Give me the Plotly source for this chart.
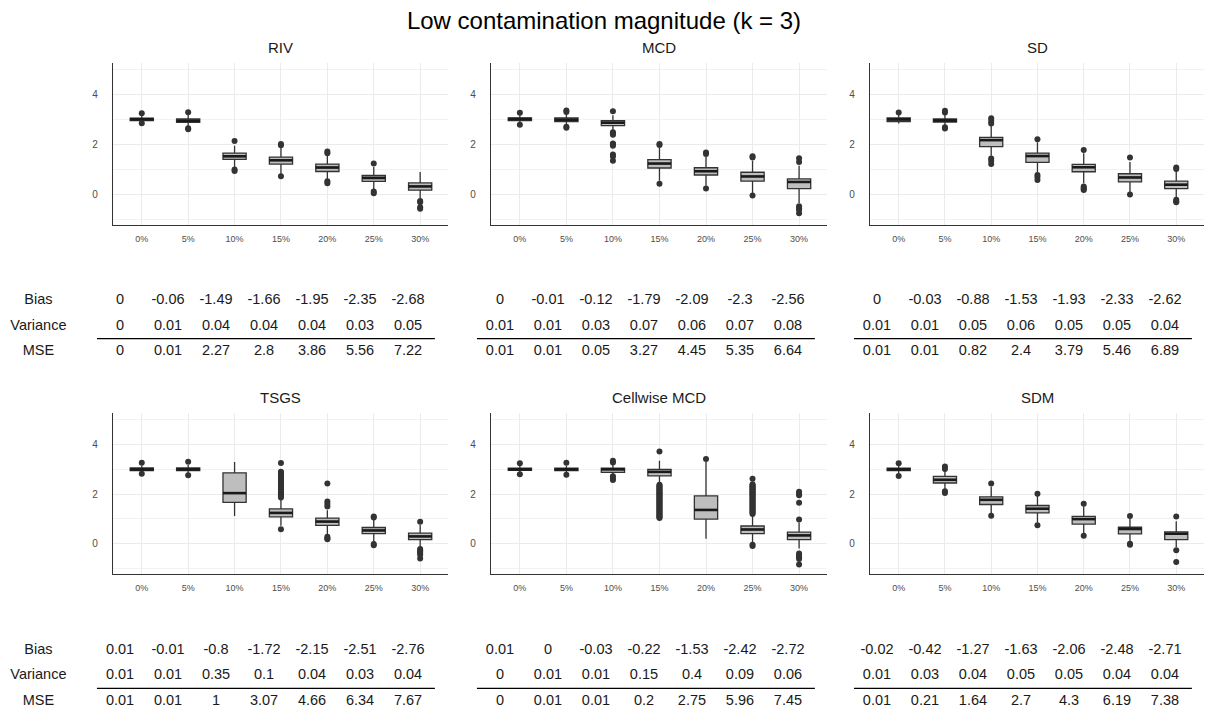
import plotly.graph_objects as go

W, H = 1208, 711

CATS = ["0%", "5%", "10%", "15%", "20%", "25%", "30%"]
METHODS = ["RIV", "MCD", "SD", "TSGS", "Cellwise MCD", "SDM"]
ROW_LABELS = ["Bias", "Variance", "MSE"]
TITLE = "Low contamination magnitude (k = 3)"

# ---- box statistics ----
Q1 = {
    "RIV":          [2.97, 2.89, 1.41, 1.22, 0.92, 0.52, 0.17],
    "MCD":          [2.97, 2.93, 2.76, 1.06, 0.78, 0.53, 0.23],
    "SD":           [2.93, 2.91, 1.92, 1.29, 0.91, 0.50, 0.23],
    "TSGS":         [2.95, 2.95, 1.67, 1.08, 0.74, 0.40, 0.16],
    "Cellwise MCD": [2.96, 2.95, 2.88, 2.74, 0.99, 0.40, 0.16],
    "SDM":          [2.95, 2.45, 1.58, 1.24, 0.79, 0.39, 0.16],
}
MEDIAN = {
    "RIV":          [3.02, 2.96, 1.53, 1.37, 1.08, 0.66, 0.32],
    "MCD":          [3.03, 3.00, 2.88, 1.24, 0.93, 0.72, 0.50],
    "SD":           [3.01, 2.97, 2.18, 1.54, 1.09, 0.68, 0.39],
    "TSGS":         [3.00, 3.00, 2.04, 1.24, 0.89, 0.53, 0.29],
    "Cellwise MCD": [3.00, 3.00, 3.00, 2.90, 1.36, 0.57, 0.33],
    "SDM":          [3.00, 2.58, 1.77, 1.41, 0.99, 0.59, 0.40],
}
Q3 = {
    "RIV":          [3.06, 3.03, 1.66, 1.50, 1.22, 0.76, 0.46],
    "MCD":          [3.07, 3.07, 2.96, 1.40, 1.07, 0.89, 0.62],
    "SD":           [3.07, 3.03, 2.29, 1.66, 1.21, 0.83, 0.53],
    "TSGS":         [3.06, 3.06, 2.86, 1.40, 1.03, 0.65, 0.42],
    "Cellwise MCD": [3.05, 3.05, 3.05, 3.00, 1.93, 0.71, 0.46],
    "SDM":          [3.05, 2.72, 1.89, 1.54, 1.10, 0.66, 0.47],
}
LOWER = {
    "RIV":          [2.88, 2.72, 1.08, 0.82, 0.60, 0.22, -0.15],
    "MCD":          [2.88, 2.80, 2.52, 0.55, 0.35, 0.05, -0.35],
    "SD":           [2.85, 2.78, 1.55, 0.88, 0.45, 0.05, -0.12],
    "TSGS":         [2.88, 2.85, 1.12, 0.72, 0.35, 0.05, -0.12],
    "Cellwise MCD": [2.88, 2.85, 2.80, 2.45, 0.20, 0.02, -0.20],
    "SDM":          [2.85, 2.20, 1.20, 0.85, 0.40, 0.05, -0.15],
}
UPPER = {
    "RIV":          [3.18, 3.22, 1.95, 1.90, 1.55, 1.10, 0.90],
    "MCD":          [3.18, 3.22, 3.18, 1.88, 1.50, 1.35, 1.15],
    "SD":           [3.20, 3.22, 2.75, 2.10, 1.65, 1.30, 0.95],
    "TSGS":         [3.15, 3.18, 3.30, 1.80, 1.35, 0.95, 0.75],
    "Cellwise MCD": [3.15, 3.15, 3.20, 3.35, 3.30, 1.15, 0.85],
    "SDM":          [3.15, 2.95, 2.30, 1.95, 1.50, 1.00, 0.90],
}
OUTLIERS = {
    "RIV": [
        [3.26, 2.86], [3.30, 2.66, 2.62], [2.15, 1.00, 0.94], [2.03, 1.97, 0.73],
        [1.72, 1.65, 0.53, 0.45], [1.24, 0.12, 0.05], [-0.27, -0.32, -0.52, -0.58]],
    "MCD": [
        [3.28, 2.80], [3.37, 3.31, 2.72, 2.68],
        [3.34, 2.50, 2.45, 2.40, 2.05, 2.00, 1.95, 1.60, 1.52, 1.35],
        [2.03, 1.98, 0.43], [1.68, 1.62, 0.24], [1.53, 1.48, -0.04],
        [1.45, 1.30, -0.48, -0.56, -0.62, -0.76]],
    "SD": [
        [3.29], [3.36, 3.29, 2.70, 2.65], [3.06, 2.95, 2.85, 1.44, 1.35, 1.22],
        [2.22, 0.78, 0.70, 0.58], [1.78, 0.32, 0.26, 0.22, 0.18], [1.48, 0.00],
        [1.08, 1.02, -0.22, -0.28, -0.32]],
    "TSGS": [
        [3.27, 2.82], [3.31, 2.76], [],
        [3.26, 2.90, 2.86, 2.82, 2.78, 2.74, 2.70, 2.66, 2.62, 2.58, 2.54, 2.50, 2.46,
         2.42, 2.38, 2.34, 2.30, 2.26, 2.22, 2.18, 2.14, 2.10, 2.06, 2.02, 1.98, 1.94,
         1.90, 1.86, 0.58],
        [2.43, 1.70, 1.60, 1.50, 0.28, 0.22, 0.18], [1.10, 1.05, -0.02, -0.07],
        [0.88, -0.22, -0.28, -0.33, -0.38, -0.45, -0.60]],
    "Cellwise MCD": [
        [3.25, 2.80], [3.27, 2.78], [3.35, 3.28, 2.72, 2.62, 2.57],
        [3.72, 2.38, 2.34, 2.30, 2.26, 2.22, 2.18, 2.14, 2.10, 2.06, 2.02, 1.98, 1.94,
         1.90, 1.86, 1.82, 1.78, 1.74, 1.70, 1.66, 1.62, 1.58, 1.54, 1.50, 1.46, 1.42,
         1.38, 1.34, 1.30, 1.26, 1.22, 1.18, 1.14, 1.10, 1.06, 1.03],
        [3.42],
        [2.62, 2.40, 2.36, 2.32, 2.28, 2.24, 2.20, 2.16, 2.12, 2.08, 2.04, 2.00, 1.96,
         1.92, 1.88, 1.84, 1.80, 1.76, 1.72, 1.68, 1.64, 1.60, 1.56, 1.52, 1.48, 1.44,
         1.40, 1.36, 1.32, 1.28, 1.24, 1.20, -0.05, -0.10],
        [2.10, 2.02, 1.95, 1.65, 0.97, -0.40, -0.48, -0.55, -0.62, -0.85]],
    "SDM": [
        [3.25, 2.73], [3.12, 3.02, 2.12, 2.05], [2.43, 1.13], [2.01, 0.74],
        [1.61, 0.32], [1.12, -0.01, -0.05], [1.10, -0.27, -0.74]],
}

# ---- summary tables ----
BIAS = {
    "RIV":          [0, -0.06, -1.49, -1.66, -1.95, -2.35, -2.68],
    "MCD":          [0, -0.01, -0.12, -1.79, -2.09, -2.3, -2.56],
    "SD":           [0, -0.03, -0.88, -1.53, -1.93, -2.33, -2.62],
    "TSGS":         [0.01, -0.01, -0.8, -1.72, -2.15, -2.51, -2.76],
    "Cellwise MCD": [0.01, 0, -0.03, -0.22, -1.53, -2.42, -2.72],
    "SDM":          [-0.02, -0.42, -1.27, -1.63, -2.06, -2.48, -2.71],
}
VARIANCE = {
    "RIV":          [0, 0.01, 0.04, 0.04, 0.04, 0.03, 0.05],
    "MCD":          [0.01, 0.01, 0.03, 0.07, 0.06, 0.07, 0.08],
    "SD":           [0.01, 0.01, 0.05, 0.06, 0.05, 0.05, 0.04],
    "TSGS":         [0.01, 0.01, 0.35, 0.1, 0.04, 0.03, 0.04],
    "Cellwise MCD": [0, 0.01, 0.01, 0.15, 0.4, 0.09, 0.06],
    "SDM":          [0.01, 0.03, 0.04, 0.05, 0.05, 0.04, 0.04],
}
MSE = {
    "RIV":          [0, 0.01, 2.27, 2.8, 3.86, 5.56, 7.22],
    "MCD":          [0.01, 0.01, 0.05, 3.27, 4.45, 5.35, 6.64],
    "SD":           [0.01, 0.01, 0.82, 2.4, 3.79, 5.46, 6.89],
    "TSGS":         [0.01, 0.01, 1, 3.07, 4.66, 6.34, 7.67],
    "Cellwise MCD": [0, 0.01, 0.01, 0.2, 2.75, 5.96, 7.45],
    "SDM":          [0.01, 0.21, 1.64, 2.7, 4.3, 6.19, 7.38],
}

# ---- layout geometry (pixels) ----
FONT = "Liberation Sans, Arial, sans-serif"
PLOT_X = [(113, 448), (491, 827), (870, 1204)]
PLOT_Y = [(63, 225), (413, 574)]
TITLE_Y = [47, 397]
TAB_C0 = [120, 500, 877]       # pixel centre of first table column
TAB_STEP = 48
TAB_Y = [(288, 364, -0.5, 2.5), (637, 711, -0.39, 2.51)]
X_RANGE = [-0.62, 6.6]
Y_RANGE = [-1.23, 5.28]
LABEL_X = -1.7
BOX_FILL = "#BEBEBE"
DARK = "#333333"


def px_x(a, b):
    return [max(0.0, a / W), min(1.0, b / W)]


def px_y(top, bottom):
    return [max(0.0, 1 - bottom / H), min(1.0, 1 - top / H)]


def fmt(v):
    return format(v, "g")


def ax(n):
    s = "" if n == 1 else str(n)
    return "x" + s, "y" + s, "xaxis" + s, "yaxis" + s


fig = go.Figure()
layout = dict(
    width=W, height=H, margin=dict(l=0, r=0, t=0, b=0),
    paper_bgcolor="white", plot_bgcolor="white", showlegend=False,
    font=dict(family=FONT, color="#1a1a1a"),
    title=dict(text=TITLE, x=0.5, xanchor="center", y=1 - 21 / H, yanchor="middle",
               font=dict(size=24, color="#000000", family=FONT)),
    annotations=[],
)

xs = list(range(len(CATS)))
for i, m in enumerate(METHODS):
    r, c = divmod(i, 3)
    xa, ya, xk, yk = ax(i + 1)
    fig.add_trace(go.Box(
        x=xs, q1=Q1[m], median=MEDIAN[m], q3=Q3[m],
        lowerfence=LOWER[m], upperfence=UPPER[m],
        width=0.5, whiskerwidth=0, boxpoints=False,
        fillcolor=BOX_FILL, line=dict(color=DARK, width=1.3),
        xaxis=xa, yaxis=ya, hoverinfo="skip"))
    # thicker median bars
    mx, my = [], []
    for k, v in enumerate(MEDIAN[m]):
        mx += [k - 0.25, k + 0.25, None]
        my += [v, v, None]
    fig.add_trace(go.Scatter(x=mx, y=my, mode="lines",
                             line=dict(color="#1a1a1a", width=2.6),
                             xaxis=xa, yaxis=ya, hoverinfo="skip"))
    ox, oy = [], []
    for k, vals in enumerate(OUTLIERS[m]):
        ox += [k] * len(vals)
        oy += vals
    fig.add_trace(go.Scatter(x=ox, y=oy, mode="markers",
                             marker=dict(color=DARK, size=6),
                             xaxis=xa, yaxis=ya, hoverinfo="skip", cliponaxis=False))

    axis_common = dict(showline=True, linecolor=DARK, linewidth=1.3, zeroline=False,
                       showgrid=True, gridcolor="#EBEBEB", gridwidth=1, ticks="",
                       fixedrange=True)
    layout[xk] = dict(
        domain=px_x(*PLOT_X[c]), anchor=ya, range=X_RANGE,
        tickmode="array", tickvals=xs, ticktext=CATS,
        tickfont=dict(size=9, color="#4D4D4D", family=FONT),
        ticklabelstandoff=5, **axis_common)
    layout[yk] = dict(
        domain=px_y(*PLOT_Y[r]), anchor=xa, range=Y_RANGE,
        tick0=0, dtick=2,
        minor=dict(dtick=1, tick0=0, showgrid=True, gridcolor="#F2F2F2", gridwidth=0.8),
        tickfont=dict(size=10, color="#4D4D4D", family=FONT),
        ticklabelstandoff=12, **axis_common)
    layout["annotations"].append(dict(
        text=m, xref=f"{xa} domain", yref="paper", x=0.5, y=1 - TITLE_Y[r] / H,
        xanchor="center", yanchor="middle", showarrow=False,
        font=dict(size=15, color="#1a1a1a", family=FONT)))

    # ---- table ----
    txa, tya, txk, tyk = ax(i + 7)
    lo = -2.5 if c == 0 else -0.6
    hi = 6.6
    c0 = TAB_C0[c]
    top, bot, ylo, yhi = TAB_Y[r]
    layout[txk] = dict(domain=px_x(c0 + lo * TAB_STEP, c0 + hi * TAB_STEP),
                       range=[lo, hi], visible=False, anchor=tya, fixedrange=True)
    layout[tyk] = dict(domain=px_y(top, bot), range=[ylo, yhi],
                       visible=False, anchor=txa, fixedrange=True)
    tx, ty, tt = [], [], []
    for row_y, vals in zip([2, 1, 0], [BIAS[m], VARIANCE[m], MSE[m]]):
        for k, v in enumerate(vals):
            tx.append(k)
            ty.append(row_y)
            tt.append(fmt(v))
    if c == 0:
        for row_y, lab in zip([2, 1, 0], ROW_LABELS):
            tx.append(LABEL_X)
            ty.append(row_y)
            tt.append(lab)
    fig.add_trace(go.Scatter(x=tx, y=ty, text=tt, mode="text",
                             textfont=dict(size=14.5, color="#1a1a1a", family=FONT),
                             textposition="middle center", cliponaxis=False,
                             xaxis=txa, yaxis=tya, hoverinfo="skip"))
    fig.add_trace(go.Scatter(x=[-0.48, len(CATS) - 1 + 0.56], y=[0.5, 0.5], mode="lines",
                             line=dict(color="#000000", width=1.2),
                             xaxis=txa, yaxis=tya, hoverinfo="skip"))

fig.update_layout(**layout)
fig.write_html("out.html")
